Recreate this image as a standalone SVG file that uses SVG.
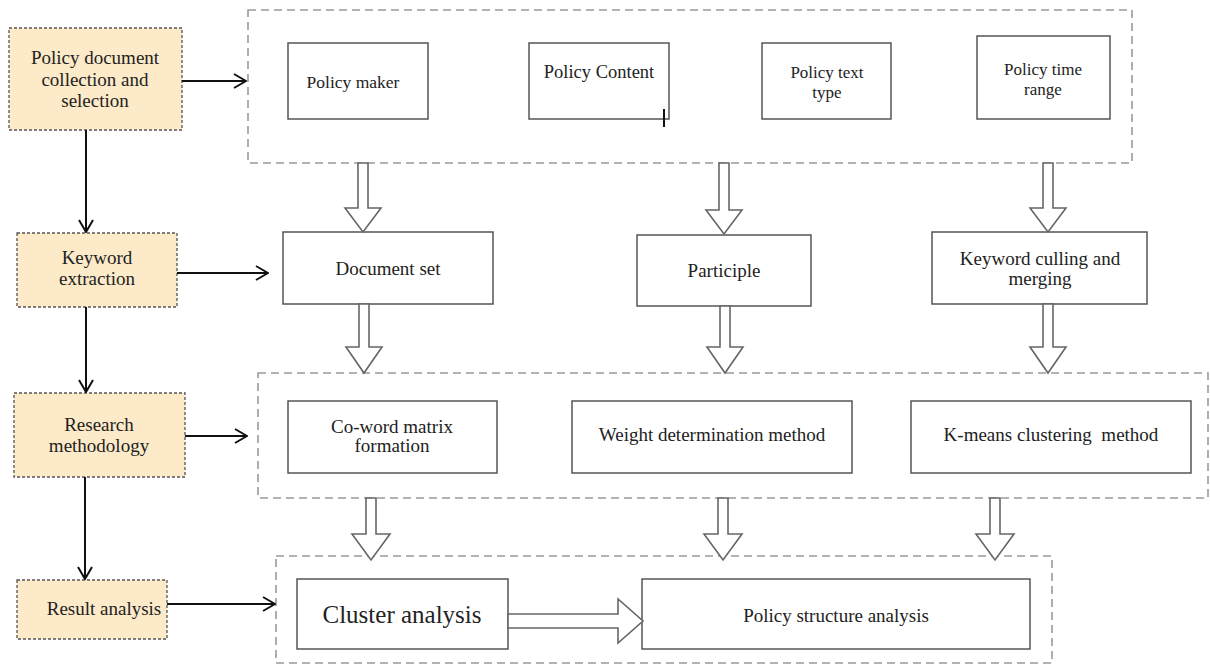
<svg xmlns="http://www.w3.org/2000/svg" width="1210" height="666" viewBox="0 0 1210 666">
<defs>
<style>
text{font-family:"Liberation Serif","Times New Roman",serif;font-size:19px;fill:#222;text-anchor:middle}
.step{fill:#fdeac8;stroke:#555;stroke-width:1.3;stroke-dasharray:3 2}
.box{fill:#fff;stroke:#555;stroke-width:1.5}
.grp{fill:none;stroke:#9a9a9a;stroke-width:1.6;stroke-dasharray:8 5}
.ln{fill:none;stroke:#111;stroke-width:2}
.big{fill:#fff;stroke:#666;stroke-width:1.6;stroke-linejoin:miter}
</style>
<marker id="ah" viewBox="0 0 14 16" refX="13" refY="8" markerWidth="14" markerHeight="16" markerUnits="userSpaceOnUse" orient="auto">
<path d="M1,1 L13,8 L1,15" fill="none" stroke="#111" stroke-width="2"/>
</marker>
</defs>

<g id="containers">
<rect class="grp" x="248" y="10" width="884" height="153"/>
<rect class="grp" x="258" y="373" width="950" height="125"/>
<rect class="grp" x="276" y="556" width="776" height="107"/>
</g>

<g id="step1"><rect class="step" x="9" y="28" width="173" height="102"/>
<text x="95" y="64">Policy document</text><text x="95" y="86">collection and</text><text x="95" y="107">selection</text></g>
<g id="step2"><rect class="step" x="17" y="233" width="160" height="74"/>
<text x="97" y="264">Keyword</text><text x="97" y="285">extraction</text></g>
<g id="step3"><rect class="step" x="14" y="393" width="171" height="84"/>
<text x="99" y="431">Research</text><text x="99" y="452">methodology</text></g>
<g id="step4"><rect class="step" x="17" y="580" width="150" height="59"/>
<text x="104" y="615">Result analysis</text></g>

<g id="policy-maker"><rect class="box" x="288" y="43" width="140" height="76"/><text x="353" y="88" style="font-size:17.5px">Policy maker</text></g>
<g id="policy-content"><rect class="box" x="529" y="43" width="140" height="76"/><text x="599" y="78" style="font-size:18.5px">Policy Content</text>
<line x1="664" y1="109" x2="664" y2="127" stroke="#111" stroke-width="2"/></g>
<g id="policy-text-type"><rect class="box" x="762" y="43" width="129" height="76"/><text x="827" y="78" style="font-size:17px">Policy text</text><text x="827" y="98" style="font-size:17px">type</text></g>
<g id="policy-time-range"><rect class="box" x="977" y="36" width="133" height="83"/><text x="1043" y="75" style="font-size:17px">Policy time</text><text x="1043" y="95" style="font-size:17px">range</text></g>

<g id="document-set"><rect class="box" x="283" y="232" width="210" height="72"/><text x="388" y="275">Document set</text></g>
<g id="participle"><rect class="box" x="637" y="235" width="174" height="71"/><text x="724" y="277">Participle</text></g>
<g id="keyword-culling"><rect class="box" x="932" y="232" width="215" height="72"/><text x="1040" y="265">Keyword culling and</text><text x="1040" y="285">merging</text></g>

<g id="co-word"><rect class="box" x="288" y="401" width="209" height="72"/><text x="392" y="433">Co-word matrix</text><text x="392" y="452">formation</text></g>
<g id="weight"><rect class="box" x="572" y="401" width="280" height="72"/><text x="712" y="441">Weight determination method</text></g>
<g id="kmeans"><rect class="box" x="911" y="401" width="280" height="72"/><text x="1051" y="441" xml:space="preserve">K-means clustering  method</text></g>

<g id="cluster"><rect class="box" x="297" y="579" width="211" height="70"/><text x="402" y="623" style="font-size:25px">Cluster analysis</text></g>
<g id="policy-structure"><rect class="box" x="642" y="579" width="388" height="70"/><text x="836" y="622">Policy structure analysis</text></g>

<g id="connectors">
<line class="ln" x1="182" y1="81" x2="246" y2="81" marker-end="url(#ah)"/>
<line class="ln" x1="177" y1="273" x2="268" y2="273" marker-end="url(#ah)"/>
<line class="ln" x1="185" y1="436" x2="247" y2="436" marker-end="url(#ah)"/>
<line class="ln" x1="167" y1="604" x2="275" y2="604" marker-end="url(#ah)"/>
<line class="ln" x1="86" y1="130" x2="86" y2="232" marker-end="url(#ah)"/>
<line class="ln" x1="86" y1="307" x2="86" y2="392" marker-end="url(#ah)"/>
<line class="ln" x1="85" y1="477" x2="85" y2="579" marker-end="url(#ah)"/>

<path class="big" d="M358,163 L358,208 L345,208 L363,232 L381,208 L368,208 L368,163 Z"/>
<path class="big" d="M719,163 L719,210 L706,210 L724,234 L742,210 L729,210 L729,163 Z"/>
<path class="big" d="M1043,163 L1043,208 L1030,208 L1048,232 L1066,208 L1053,208 L1053,163 Z"/>

<path class="big" d="M359,304 L359,347 L346,347 L364,373 L382,347 L369,347 L369,304 Z"/>
<path class="big" d="M720,306 L720,347 L707,347 L725,373 L743,347 L730,347 L730,306 Z"/>
<path class="big" d="M1043,304 L1043,347 L1030,347 L1048,373 L1066,347 L1053,347 L1053,304 Z"/>

<path class="big" d="M366,498 L366,534 L352,534 L371,560 L390,534 L376,534 L376,498 Z"/>
<path class="big" d="M718,498 L718,534 L704,534 L723,560 L742,534 L728,534 L728,498 Z"/>
<path class="big" d="M990,498 L990,534 L976,534 L995,560 L1014,534 L1000,534 L1000,498 Z"/>

<path class="big" d="M508,614 L618,614 L618,599 L643,621 L618,643 L618,628 L508,628 Z"/>
</g>
</svg>
